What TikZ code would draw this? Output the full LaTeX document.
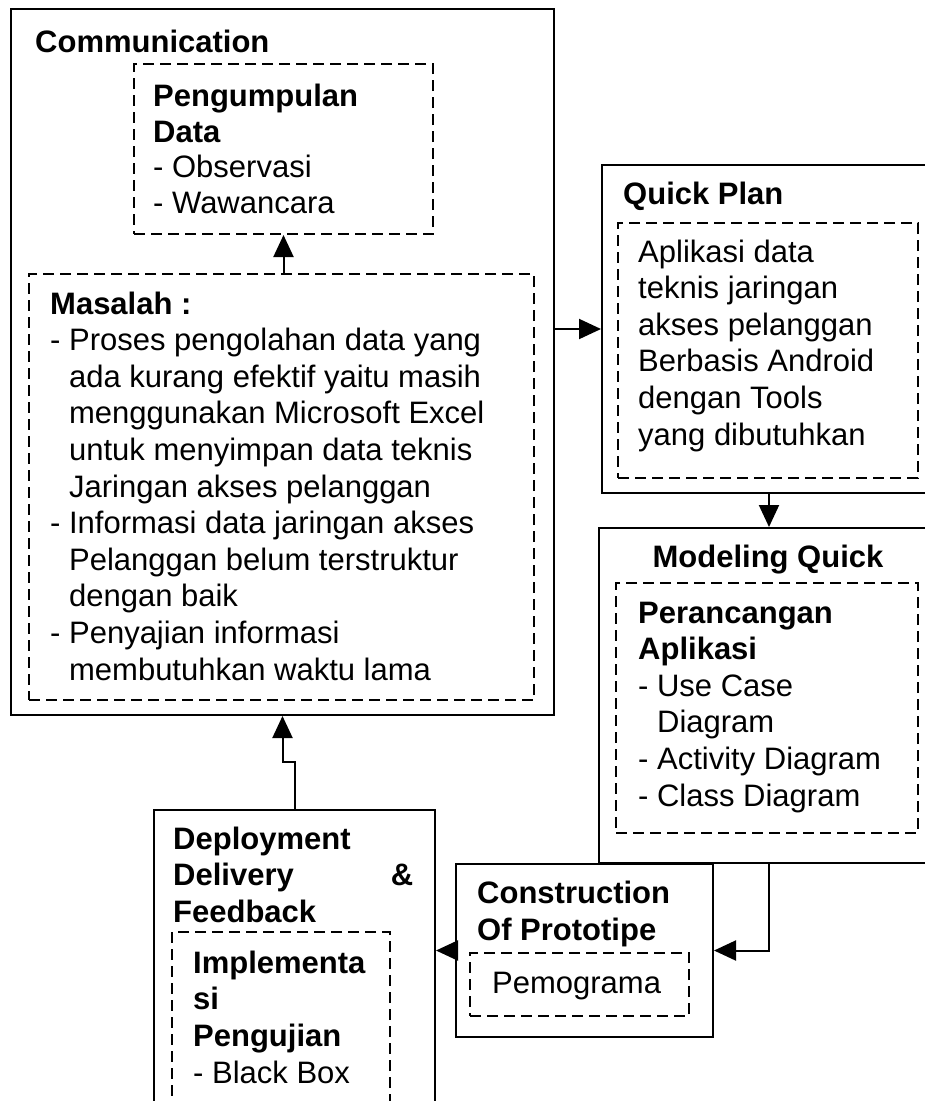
\documentclass[tikz,border=0pt]{standalone}
\usepackage{fontspec}
\setmainfont{Liberation Sans}
\usetikzlibrary{arrows.meta,calc}
\begin{document}
\begin{tikzpicture}[x=1pt,y=-1pt,
  box/.style={draw, line width=2pt, anchor=north west, inner sep=0pt},
  dbox/.style={draw, line width=2pt, dash pattern=on 11pt off 6pt, anchor=north west, inner sep=0pt},
  % multi-line texts are placed by the baseline of their last line
  txt/.style={anchor=base west, inner sep=0pt, align=left, font=\fontsize{31}{36.6}\selectfont},
  flow/.style={line width=2pt, -{Triangle[length=22pt,width=20pt]}}]
\useasboundingbox (0,0) rectangle (925,1101);
\clip (0,0) rectangle (925,1101);

% phase frames and their inner (dashed) content frames
\node[box, minimum width=543pt, minimum height=706pt] (comm) at (10,8) {};
\node[dbox, minimum width=299pt, minimum height=170pt] (pengum) at (133,63) {};
\node[dbox, minimum width=505pt, minimum height=426pt] (masalah) at (28,273) {};
\node[box, minimum width=334pt, minimum height=328pt] (quick) at (601,164) {};
\node[dbox, minimum width=300pt, minimum height=255pt] (quickin) at (617,222) {};
\node[box, minimum width=340pt, minimum height=335pt] (model) at (598,527) {};
\node[dbox, minimum width=302pt, minimum height=250pt] (modelin) at (615,582) {};
\node[box, minimum width=257pt, minimum height=173pt] (constr) at (455,863) {};
\node[dbox, minimum width=219pt, minimum height=63pt] (constrin) at (469,952) {};
\node[box, minimum width=281pt, minimum height=330pt] (deploy) at (153,809) {};
\node[dbox, minimum width=218pt, minimum height=210pt] (deployin) at (171,931) {};

% texts
\node[txt] (tcomm) at (35,52) {\textbf{Communication}};
\node[txt, font=\fontsize{31}{35.4}\selectfont] (tpeng) at (153,213) {\textbf{Pengumpulan}\\\textbf{Data}\\- Observasi\\- Wawancara};
\node[txt] (tmas) at (50,680) {\textbf{Masalah :}\\
- Proses pengolahan data yang\\
\phantom{- }ada kurang efektif yaitu masih\\
\phantom{- }menggunakan Microsoft Excel\\
\phantom{- }untuk menyimpan data teknis\\
\phantom{- }Jaringan akses pelanggan\\
- Informasi data jaringan akses\\
\phantom{- }Pelanggan belum terstruktur\\
\phantom{- }dengan baik\\
- Penyajian informasi\\
\phantom{- }membutuhkan waktu lama};
\node[txt] (tquick) at (623,204) {\textbf{Quick Plan}};
\node[txt] (tquickin) at (638,445) {Aplikasi data\\teknis jaringan\\akses pelanggan\\Berbasis Android\\dengan Tools\\yang dibutuhkan};
\node[txt, anchor=base] (tmodel) at (768,567) {\textbf{Modeling Quick}};
\node[txt] (tmodelin) at (638,806) {\textbf{Perancangan}\\\textbf{Aplikasi}\\- Use Case\\\phantom{- }Diagram\\- Activity Diagram\\- Class Diagram};
\node[txt] (tconstr) at (477,940) {\textbf{Construction}\\\textbf{Of Prototipe}};
\node[txt] (tconstrin) at (492,993) {Pemograma};
% a fixed text width puts the base on the first line
\node[txt, text width=240pt] (tdeploy) at (173,849) {\textbf{Deployment}\\\textbf{Delivery}\hfill\textbf{\&}\\\textbf{Feedback}};
\node[txt] (tdeployin) at (193,1083) {\textbf{Implementa}\\\textbf{si}\\\textbf{Pengujian}\\- Black Box};

% connectors
\draw[flow] (masalah.north -| pengum.south) -- (pengum.south);
\draw[flow] (comm.east |- quick.west) -- (quick.west);
\draw[flow] (quick.south) -- (model.north);
\draw[flow] (model.south) |- (constr.east);
\draw[flow] (constr.west) -- (constr.west -| deploy.east);
\coordinate (bend) at (293,762);
\draw[flow] (deploy.north) -- (deploy.north |- bend) -| (comm.south);
\end{tikzpicture}
\end{document}
